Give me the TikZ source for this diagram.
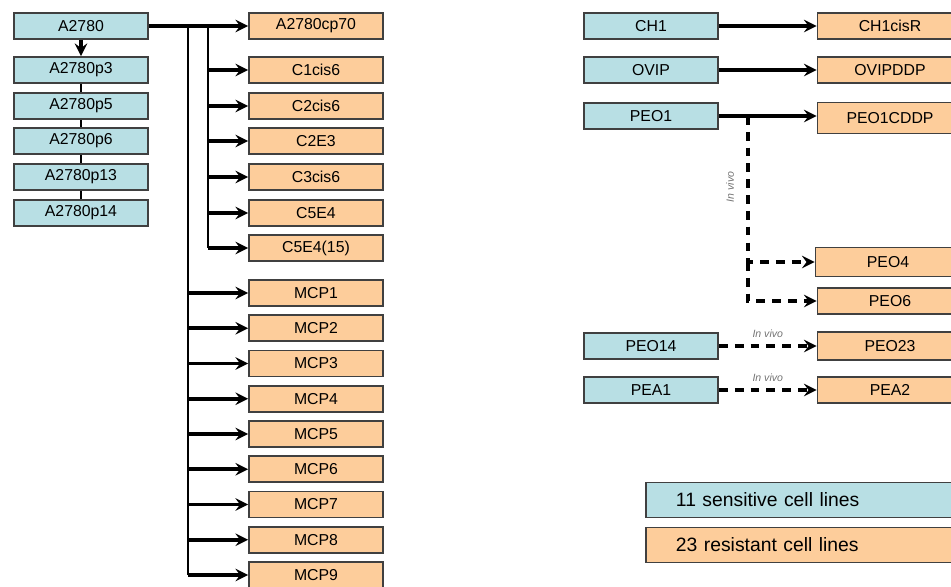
\documentclass[tikz,border=0pt]{standalone}
\usepackage{fontspec}
\setmainfont{Liberation Sans}
\usetikzlibrary{arrows, positioning}
\tikzset{>=stealth}
\definecolor{senscol}{RGB}{184,223,228}
\definecolor{rescol}{RGB}{253,205,155}
\tikzset{
  cellbox/.style={draw=black!75, line width=1.1pt, inner sep=0pt, minimum height=0.52cm,
    font=\fontsize{9}{10}\selectfont},
  sens/.style={cellbox, fill=senscol, minimum width=2.68cm},
  res/.style={cellbox, fill=rescol, minimum width=2.68cm},
  resr/.style={cellbox, fill=rescol, minimum width=2.9cm},
  legend/.style={draw=black!75, line width=1.1pt, minimum height=0.7cm, text width=5.6cm,
    inner xsep=0.6cm, align=left, font=\fontsize{11}{13}\selectfont},
  derive/.style={->, line width=2.1pt},
  invivo/.style={->, line width=2.1pt, dash pattern=on 5pt off 4pt},
  bus/.style={line width=1.1pt},
  vivolabel/.style={font=\fontsize{6}{7}\selectfont\itshape, text=black!55, inner sep=1pt}
}
\begin{document}
\begin{tikzpicture}[x=0.02cm, y=-0.02cm]
\useasboundingbox (0,0) rectangle (951,586);

% A2780 and its passages
\node[sens] (a2780) at (81,26) {A2780};
\node[sens] (p3) at (81,70) {A2780p3};
\node[sens] (p5) at (81,106) {A2780p5};
\node[sens] (p6) at (81,141) {A2780p6};
\node[sens] (p13) at (81,177) {A2780p13};
\node[sens] (p14) at (81,213) {A2780p14};
\draw[derive] (a2780) -- (p3);
\draw[bus] (p3) -- (p5);
\draw[bus] (p5) -- (p6);
\draw[bus] (p6) -- (p13);
\draw[bus] (p13) -- (p14);

% resistant sublines of A2780
\node[res] (cp70) at (316,26) {A2780cp70};
\node[res] (c1cis6) at (316,70) {C1cis6};
\node[res] (c2cis6) at (316,106) {C2cis6};
\node[res] (c2e3) at (316,141) {C2E3};
\node[res] (c3cis6) at (316,177) {C3cis6};
\node[res] (c5e4) at (316,213) {C5E4};
\node[res] (c5e415) at (316,248) {C5E4(15)};
\foreach \i in {1,...,9}
  \node[res] (mcp\i) at (316,{293+35.25*(\i-1)}) {MCP\i};

\coordinate (busA) at (188,26);
\coordinate (busB) at (208,26);
\draw[derive] (a2780) -- (cp70);
\draw[bus] (busB) -- (busB |- c5e415);
\draw[bus] (busA) -- (busA |- mcp9);
\foreach \n in {c1cis6,c2cis6,c2e3,c3cis6,c5e4,c5e415}
  \draw[derive] (busB |- \n) -- (\n);
\foreach \i in {1,...,9}
  \draw[derive] (busA |- mcp\i) -- (mcp\i);

% other cell line pairs
\node[sens] (ch1) at (651,26) {CH1};
\node[sens] (ovip) at (651,70) {OVIP};
\node[sens] (peo1) at (651,116) {PEO1};
\node[sens] (peo14) at (651,346) {PEO14};
\node[sens] (pea1) at (651,390) {PEA1};
\node[resr] (ch1cisr) at (890,26) {CH1cisR};
\node[resr] (ovipddp) at (890,70) {OVIPDDP};
\node[resr, minimum height=0.62cm] (peo1cddp) at (890,118) {PEO1CDDP};
\node[resr, minimum height=0.58cm] (peo4) at (888,262) {PEO4};
\node[resr] (peo6) at (890,301) {PEO6};
\node[resr, minimum height=0.56cm] (peo23) at (890,346) {PEO23};
\node[resr] (pea2) at (890,390) {PEA2};

\draw[derive] (ch1) -- (ch1cisr);
\draw[derive] (ovip) -- (ovipddp);
\draw[derive] (peo1) -- (peo1cddp.west |- peo1);
\coordinate (vivo) at (748,116);
\draw[invivo] (vivo) -- (vivo |- peo4) -- (peo4);
\draw[invivo] (vivo |- peo4) -- (vivo |- peo6) -- (peo6);
\node[vivolabel, rotate=90] (vivo1) at (730,187) {In vivo};
\draw[invivo] (peo14) -- node[vivolabel, above=3pt] (vivo2) {In vivo} (peo23);
\draw[invivo] (pea1) -- node[vivolabel, above=3pt] (vivo3) {In vivo} (pea2);

% legend
\node[legend, fill=senscol, anchor=west] (sensleg) at (645,500) {11 sensitive cell lines};
\node[legend, fill=rescol, anchor=west] (resleg) at (645,545) {23 resistant cell lines};
\end{tikzpicture}
\end{document}
